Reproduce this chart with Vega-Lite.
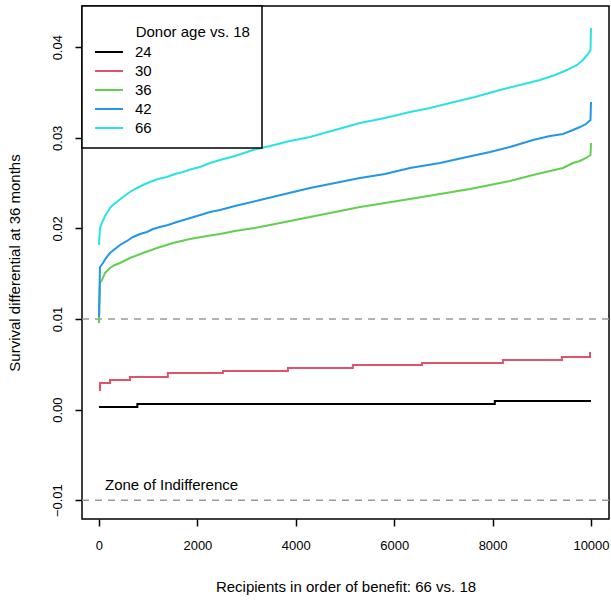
{
  "$schema": "https://vega.github.io/schema/vega-lite/v6.json",
  "width": 527,
  "height": 513,
  "autosize": {"type": "none"},
  "padding": {"left": 82, "top": 6, "right": 2, "bottom": 81},
  "background": "white",
  "config": {
    "font": "Liberation Sans",
    "view": {"stroke": "black", "strokeWidth": 1.5},
    "axis": {
      "domain": false,
      "grid": false,
      "tickColor": "black",
      "tickWidth": 1.5,
      "tickSize": 7,
      "labelColor": "black",
      "titleColor": "black",
      "labelFontSize": 13,
      "titleFontSize": 15,
      "titleFontWeight": "normal",
      "labelFont": "Liberation Sans",
      "titleFont": "Liberation Sans"
    }
  },
  "data": {
    "values": [
      {"age": "24", "x": 0, "v": 0.00029},
      {"age": "24", "x": 780, "v": 0.00062},
      {"age": "24", "x": 8045, "v": 0.00095},
      {"age": "24", "x": 10000, "v": 0.00095},
      {"age": "30", "x": 0, "v": 0.00216},
      {"age": "30", "x": 20, "v": 0.00294},
      {"age": "30", "x": 224, "v": 0.00327},
      {"age": "30", "x": 630, "v": 0.0036},
      {"age": "30", "x": 1400, "v": 0.00404},
      {"age": "30", "x": 2520, "v": 0.00426},
      {"age": "30", "x": 3840, "v": 0.00459},
      {"age": "30", "x": 5160, "v": 0.00492},
      {"age": "30", "x": 6565, "v": 0.00514},
      {"age": "30", "x": 8210, "v": 0.00547},
      {"age": "30", "x": 9410, "v": 0.00581},
      {"age": "30", "x": 9980, "v": 0.00625},
      {"age": "30", "x": 10000, "v": 0.00625},
      {"age": "36", "x": 0, "v": 0.00956},
      {"age": "36", "x": 20, "v": 0.01397},
      {"age": "36", "x": 61, "v": 0.0143},
      {"age": "36", "x": 122, "v": 0.01508},
      {"age": "36", "x": 224, "v": 0.01563},
      {"age": "36", "x": 325, "v": 0.01596},
      {"age": "36", "x": 427, "v": 0.01618},
      {"age": "36", "x": 630, "v": 0.01673},
      {"age": "36", "x": 894, "v": 0.01728},
      {"age": "36", "x": 1179, "v": 0.01784},
      {"age": "36", "x": 1504, "v": 0.01839},
      {"age": "36", "x": 1850, "v": 0.01883},
      {"age": "36", "x": 2195, "v": 0.01916},
      {"age": "36", "x": 2459, "v": 0.01938},
      {"age": "36", "x": 2764, "v": 0.01971},
      {"age": "36", "x": 3272, "v": 0.02015},
      {"age": "36", "x": 3780, "v": 0.02071},
      {"age": "36", "x": 4289, "v": 0.02126},
      {"age": "36", "x": 4797, "v": 0.02181},
      {"age": "36", "x": 5305, "v": 0.02236},
      {"age": "36", "x": 5813, "v": 0.0228},
      {"age": "36", "x": 6321, "v": 0.02325},
      {"age": "36", "x": 6931, "v": 0.0238},
      {"age": "36", "x": 7541, "v": 0.02435},
      {"age": "36", "x": 7947, "v": 0.02479},
      {"age": "36", "x": 8354, "v": 0.02523},
      {"age": "36", "x": 8821, "v": 0.02589},
      {"age": "36", "x": 9167, "v": 0.02634},
      {"age": "36", "x": 9431, "v": 0.02667},
      {"age": "36", "x": 9634, "v": 0.02722},
      {"age": "36", "x": 9776, "v": 0.02744},
      {"age": "36", "x": 9898, "v": 0.02777},
      {"age": "36", "x": 9990, "v": 0.0281},
      {"age": "36", "x": 10000, "v": 0.02943},
      {"age": "42", "x": 0, "v": 0.01022},
      {"age": "42", "x": 20, "v": 0.01574},
      {"age": "42", "x": 81, "v": 0.01618},
      {"age": "42", "x": 142, "v": 0.01673},
      {"age": "42", "x": 224, "v": 0.01728},
      {"age": "42", "x": 325, "v": 0.01773},
      {"age": "42", "x": 427, "v": 0.01817},
      {"age": "42", "x": 569, "v": 0.01861},
      {"age": "42", "x": 691, "v": 0.01905},
      {"age": "42", "x": 833, "v": 0.01938},
      {"age": "42", "x": 976, "v": 0.0196},
      {"age": "42", "x": 1098, "v": 0.01993},
      {"age": "42", "x": 1240, "v": 0.02015},
      {"age": "42", "x": 1402, "v": 0.02038},
      {"age": "42", "x": 1585, "v": 0.02071},
      {"age": "42", "x": 1789, "v": 0.02104},
      {"age": "42", "x": 1992, "v": 0.02137},
      {"age": "42", "x": 2256, "v": 0.02181},
      {"age": "42", "x": 2459, "v": 0.02203},
      {"age": "42", "x": 2764, "v": 0.02247},
      {"age": "42", "x": 3272, "v": 0.02313},
      {"age": "42", "x": 3780, "v": 0.0238},
      {"age": "42", "x": 4289, "v": 0.02446},
      {"age": "42", "x": 4797, "v": 0.02501},
      {"age": "42", "x": 5305, "v": 0.02556},
      {"age": "42", "x": 5813, "v": 0.026},
      {"age": "42", "x": 6321, "v": 0.02667},
      {"age": "42", "x": 6931, "v": 0.02722},
      {"age": "42", "x": 7480, "v": 0.02788},
      {"age": "42", "x": 7947, "v": 0.02843},
      {"age": "42", "x": 8354, "v": 0.02898},
      {"age": "42", "x": 8821, "v": 0.02976},
      {"age": "42", "x": 9167, "v": 0.0302},
      {"age": "42", "x": 9431, "v": 0.03042},
      {"age": "42", "x": 9634, "v": 0.03086},
      {"age": "42", "x": 9776, "v": 0.03119},
      {"age": "42", "x": 9898, "v": 0.03152},
      {"age": "42", "x": 9990, "v": 0.03196},
      {"age": "42", "x": 10000, "v": 0.03395},
      {"age": "66", "x": 0, "v": 0.01817},
      {"age": "66", "x": 20, "v": 0.02004},
      {"age": "66", "x": 61, "v": 0.0206},
      {"age": "66", "x": 122, "v": 0.02137},
      {"age": "66", "x": 163, "v": 0.0217},
      {"age": "66", "x": 224, "v": 0.02225},
      {"age": "66", "x": 285, "v": 0.02258},
      {"age": "66", "x": 386, "v": 0.02302},
      {"age": "66", "x": 488, "v": 0.02347},
      {"age": "66", "x": 630, "v": 0.02402},
      {"age": "66", "x": 772, "v": 0.02446},
      {"age": "66", "x": 894, "v": 0.02479},
      {"age": "66", "x": 1037, "v": 0.02512},
      {"age": "66", "x": 1199, "v": 0.02545},
      {"age": "66", "x": 1382, "v": 0.02567},
      {"age": "66", "x": 1545, "v": 0.026},
      {"age": "66", "x": 1707, "v": 0.02623},
      {"age": "66", "x": 1890, "v": 0.02656},
      {"age": "66", "x": 2053, "v": 0.02678},
      {"age": "66", "x": 2256, "v": 0.02722},
      {"age": "66", "x": 2459, "v": 0.02755},
      {"age": "66", "x": 2764, "v": 0.02799},
      {"age": "66", "x": 3130, "v": 0.02865},
      {"age": "66", "x": 3476, "v": 0.02909},
      {"age": "66", "x": 3882, "v": 0.02965},
      {"age": "66", "x": 4289, "v": 0.03009},
      {"age": "66", "x": 4797, "v": 0.03086},
      {"age": "66", "x": 5305, "v": 0.03163},
      {"age": "66", "x": 5813, "v": 0.03219},
      {"age": "66", "x": 6321, "v": 0.03285},
      {"age": "66", "x": 6728, "v": 0.03329},
      {"age": "66", "x": 7134, "v": 0.03384},
      {"age": "66", "x": 7642, "v": 0.0345},
      {"age": "66", "x": 8150, "v": 0.03528},
      {"age": "66", "x": 8557, "v": 0.03583},
      {"age": "66", "x": 8963, "v": 0.03638},
      {"age": "66", "x": 9268, "v": 0.03693},
      {"age": "66", "x": 9512, "v": 0.03748},
      {"age": "66", "x": 9715, "v": 0.03804},
      {"age": "66", "x": 9837, "v": 0.03859},
      {"age": "66", "x": 9939, "v": 0.03925},
      {"age": "66", "x": 9990, "v": 0.03969},
      {"age": "66", "x": 10000, "v": 0.04212}
    ]
  },
  "encoding": {
    "x": {
      "field": "x", "type": "quantitative",
      "scale": {"domain": [-345, 10366], "nice": false, "zero": false},
      "axis": {"values": [0, 2000, 4000, 6000, 8000, 10000], "format": "d", "title": "Recipients in order of benefit: 66 vs. 18", "labelPadding": 13, "titlePadding": 27, "labelFlush": false}
    },
    "y": {
      "field": "v", "type": "quantitative",
      "scale": {"domain": [-0.01208, 0.04455], "nice": false, "zero": false},
      "axis": {"values": [-0.01, 0, 0.01, 0.02, 0.03, 0.04], "format": ".2f", "title": "Survival differential at 36 months", "labelAngle": 270, "labelAlign": "center", "labelBaseline": "bottom", "labelPadding": 11, "titlePadding": 29}
    }
  },
  "layer": [
    {
      "data": {"values": [{"ref": 0.01}, {"ref": -0.01}]},
      "mark": {"type": "rule", "color": "#9a9a9a", "strokeWidth": 1.5, "strokeDash": [7, 6]},
      "encoding": {"y": {"field": "ref", "type": "quantitative"}, "x": null}
    },
    {
      "transform": [{"filter": {"field": "age", "oneOf": ["24", "30"]}}],
      "mark": {"type": "line", "interpolate": "step-after", "strokeWidth": 2},
      "encoding": {
        "color": {"field": "age", "type": "nominal"},
        "order": {"field": "x", "type": "quantitative"}
      }
    },
    {
      "transform": [{"filter": {"field": "age", "oneOf": ["36", "42", "66"]}}],
      "mark": {"type": "line", "strokeWidth": 2},
      "encoding": {
        "color": {
          "field": "age", "type": "nominal",
          "scale": {"domain": ["24", "30", "36", "42", "66"], "range": ["#000000", "#DF536B", "#61D04F", "#2297E6", "#28E2E5"]},
          "legend": {
            "orient": "none", "legendX": 0, "legendY": 0,
            "title": ["", "\u200b\u00a0\u00a0\u00a0\u00a0\u00a0\u00a0\u00a0\u00a0\u00a0\u00a0Donor age vs. 18"],
            "titleLineHeight": 7,
            "titleFontSize": 15, "titleFontWeight": "normal", "titleColor": "black", "titleFont": "Liberation Sans",
            "titlePadding": 4,
            "labelFontSize": 15, "labelColor": "black", "labelFont": "Liberation Sans",
            "symbolType": "M-1,0H3", "symbolSize": 196, "symbolStrokeWidth": 2,
            "labelOffset": 25, "rowPadding": 3,
            "padding": 12, "strokeColor": "black", "fillColor": "white",
            "encode": {"legend": {"update": {"strokeWidth": {"value": 1.5}}}}
          }
        },
        "order": {"field": "x", "type": "quantitative"}
      }
    },
    {
      "data": {"values": [{"tx": 122, "ty": -0.00832, "label": "Zone of Indifference"}]},
      "mark": {"type": "text", "align": "left", "baseline": "middle", "fontSize": 15, "font": "Liberation Sans", "color": "black"},
      "encoding": {
        "x": {"field": "tx", "type": "quantitative"},
        "y": {"field": "ty", "type": "quantitative"},
        "text": {"field": "label"}
      }
    }
  ]
}
